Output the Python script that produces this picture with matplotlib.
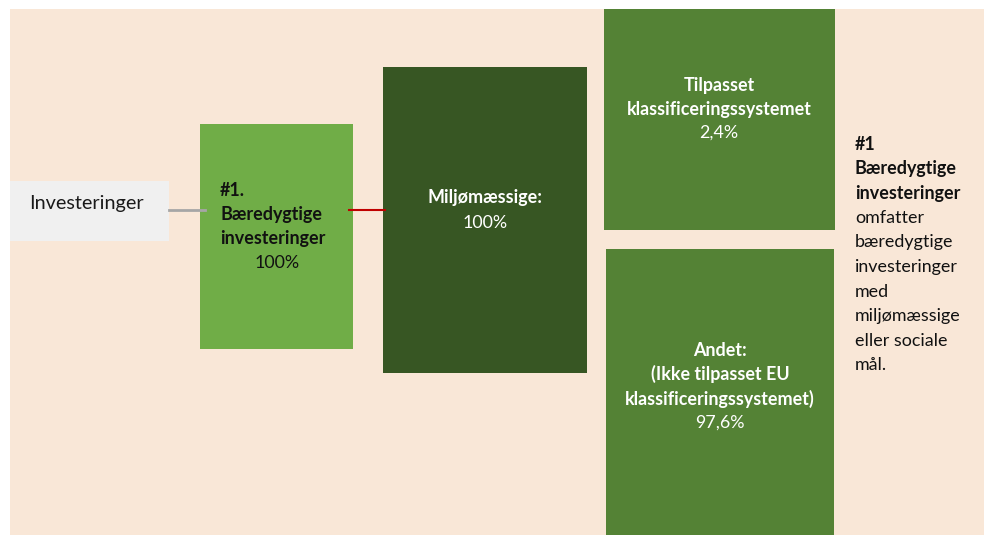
import matplotlib.pyplot as plt
from matplotlib.patches import Rectangle

# ---------------------------------------------------------
# Data
# ---------------------------------------------------------
root_label = "Investeringer"
sustainable_title = ["#1.", "Bæredygtige", "investeringer"]
sustainable_share = "100%"
env_title = "Miljømæssige:"
env_share = "100%"
aligned_title = ["Tilpasset", "klassificeringssystemet"]
aligned_share = "2,4%"
other_title = ["Andet:", "(Ikke tilpasset EU", "klassificeringssystemet)"]
other_share = "97,6%"
note_bold = ["#1", "Bæredygtige", "investeringer"]
note_text = ["omfatter", "bæredygtige", "investeringer", "med",
             "miljømæssige", "eller sociale", "mål."]

# ---------------------------------------------------------
# Layout (pixel units, y downwards)
# ---------------------------------------------------------
W, H = 984, 535
bg = "#f9e7d7"
font = "Lato"
fs = 12.9

fig = plt.figure(figsize=(W / 100, H / 100), dpi=100)
ax = fig.add_axes([0, 0, 1, 1])
ax.set_xlim(0, W)
ax.set_ylim(H, 0)
ax.axis("off")

def box(x0, y0, x1, y1, color):
    ax.add_patch(Rectangle((x0, y0), x1 - x0, y1 - y0, facecolor=color,
                           edgecolor="none"))

def lines(x, y0, step, texts, color, weight="normal", ha="center"):
    for i, t in enumerate(texts):
        ax.text(x, y0 + i * step, t, color=color, fontsize=fs, family=font,
                fontweight=weight, ha=ha, va="center")

box(10, 9, W, H, bg)

# connectors
ax.plot([169, 205], [210, 210], color="#a6a6a6", lw=2)
ax.plot([349, 385], [210, 210], color="#c00000", lw=1.5)

# root
box(10, 181, 169, 241, "#f0f0f0")
ax.text(86, 204, root_label, fontsize=14.3, family=font, ha="center",
        va="center", color="#1a1a1a")

# #1 sustainable
box(200, 124, 353, 349, "#70ad47")
lines(220, 190, 24.3, sustainable_title, "#111111", weight="bold", ha="left")
lines(277, 263, 24.3, [sustainable_share], "#111111")

# environmental
box(383, 67, 587, 373, "#375623")
lines(485, 198, 24.3, [env_title], "white", weight="bold")
lines(485, 223, 24.3, [env_share], "white")

# taxonomy aligned
box(604, 9, 835, 230, "#548235")
lines(719, 85, 24.3, aligned_title, "white", weight="bold")
lines(719, 133, 24.3, [aligned_share], "white")

# other
box(606, 249, 834, H, "#548235")
lines(720, 350, 24.3, other_title, "white", weight="bold")
lines(720, 423, 24.3, [other_share], "white")

# note
lines(855, 144, 24.6, note_bold, "#111111", weight="bold", ha="left")
lines(855, 144 + 3 * 24.6, 24.6, note_text, "#111111", ha="left")

plt.savefig("out.png", dpi=100)
